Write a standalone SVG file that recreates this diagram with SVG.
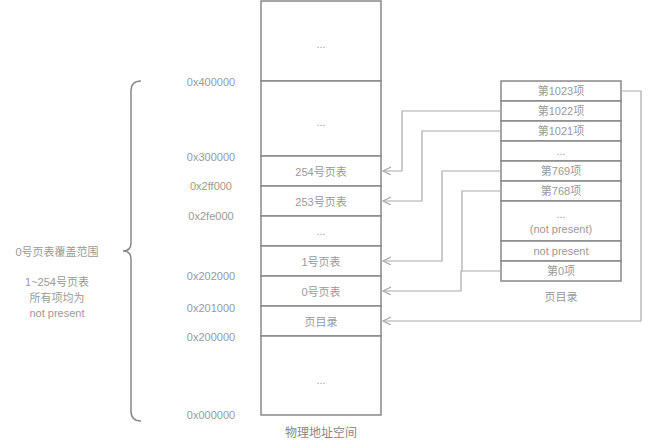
<svg xmlns="http://www.w3.org/2000/svg" width="655" height="447" viewBox="0 0 655 447">
<style>
text{font-family:"Liberation Sans","Noto Sans CJK SC",sans-serif;font-size:11px;fill:#9a9a9a;text-anchor:middle;dominant-baseline:central}
.box{fill:#fff;stroke:#888;stroke-width:1.5}
.row{fill:#fff;stroke:#888;stroke-width:1.5}
.cn{fill:none;stroke:#aaa;stroke-width:1.2}
.cap{fill:#888;font-size:12px}
.brace{fill:none;stroke:#888;stroke-width:1.5}
</style>
<defs>
<marker id="ah" markerUnits="userSpaceOnUse" markerWidth="10" markerHeight="10" refX="8" refY="4" orient="auto">
<path d="M0,0 L8,4 L0,8" fill="none" stroke="#aaa" stroke-width="1.2"/>
</marker>
</defs>
<rect width="655" height="447" fill="#fff"/>

<g id="memory">
<g id="m-top"><rect class="box" x="261" y="1" width="120" height="80"/><text x="321" y="44">...</text></g>
<g id="m-upper"><rect class="box" x="261" y="81" width="120" height="75"/><text x="321" y="122">...</text></g>
<g id="pt254"><rect class="box" x="261" y="156" width="120" height="30"/><text x="321" y="172">254号页表</text></g>
<g id="pt253"><rect class="box" x="261" y="186" width="120" height="30"/><text x="321" y="202">253号页表</text></g>
<g id="pt-mid"><rect class="box" x="261" y="216" width="120" height="30"/><text x="321" y="231">...</text></g>
<g id="pt1"><rect class="box" x="261" y="246" width="120" height="30"/><text x="321" y="262">1号页表</text></g>
<g id="pt0"><rect class="box" x="261" y="276" width="120" height="30"/><text x="321" y="292">0号页表</text></g>
<g id="pd"><rect class="box" x="261" y="306" width="120" height="30"/><text x="321" y="322">页目录</text></g>
<g id="m-low"><rect class="box" x="261" y="336" width="120" height="79"/><text x="321" y="380">...</text></g>
<text class="cap" x="321" y="433">物理地址空间</text>
</g>

<g id="addresses">
<text x="211" y="82">0x400000</text>
<text x="211" y="157">0x300000</text>
<text x="211" y="186">0x2ff000</text>
<text x="211" y="216">0x2fe000</text>
<text x="211" y="276">0x202000</text>
<text x="211" y="308">0x201000</text>
<text x="211" y="337">0x200000</text>
<text x="211" y="415">0x000000</text>
</g>

<g id="pagedir">
<g id="e1023"><rect class="row" x="501" y="81" width="120" height="20"/><text x="561" y="91">第1023项</text></g>
<g id="e1022"><rect class="row" x="501" y="101" width="120" height="20"/><text x="561" y="111">第1022项</text></g>
<g id="e1021"><rect class="row" x="501" y="121" width="120" height="20"/><text x="561" y="131">第1021项</text></g>
<g id="e-dots"><rect class="row" x="501" y="141" width="120" height="20"/><text x="561" y="151">...</text></g>
<g id="e769"><rect class="row" x="501" y="161" width="120" height="20"/><text x="561" y="171">第769项</text></g>
<g id="e768"><rect class="row" x="501" y="181" width="120" height="20"/><text x="561" y="191">第768项</text></g>
<g id="e-np"><rect class="row" x="501" y="201" width="120" height="40"/><text x="561" y="214">...</text><text x="561" y="229">(not present)</text></g>
<g id="e1"><rect class="row" x="501" y="241" width="120" height="20"/><text x="561" y="251">not present</text></g>
<g id="e0"><rect class="row" x="501" y="261" width="120" height="20"/><text x="561" y="271">第0项</text></g>
<text x="561" y="297">页目录</text>
</g>

<g id="connectors">
<path class="cn" d="M501,111 H402 V171 H383" marker-end="url(#ah)"/>
<path class="cn" d="M501,131 H422 V201 H383" marker-end="url(#ah)"/>
<path class="cn" d="M501,171 H442 V261 H383" marker-end="url(#ah)"/>
<path class="cn" d="M501,191 H462 V271"/>
<path class="cn" d="M501,271 H461 V291 H383" marker-end="url(#ah)"/>
<path class="cn" d="M621,91 H641 V321 H383" marker-end="url(#ah)"/>
</g>

<g id="range">
<path class="brace" d="M141,81 Q131,81 131,91 V243 Q131,251 123,251 Q131,251 131,259 V411 Q131,421 141,421"/>
<text x="57" y="252">0号页表覆盖范围</text>
<text x="57" y="282">1~254号页表</text>
<text x="57" y="298">所有项均为</text>
<text x="57" y="313">not present</text>
</g>
</svg>
